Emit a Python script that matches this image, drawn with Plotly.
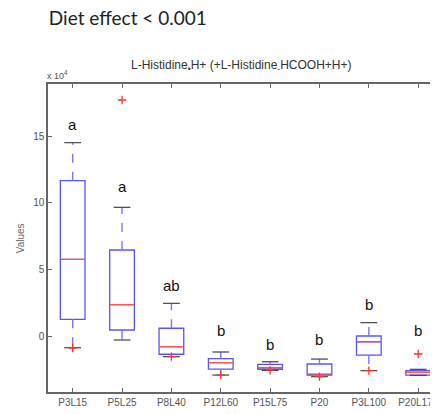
import plotly.graph_objects as go

# Box-plot statistics (units of 1e4)
groups = ['P3L15', 'P5L25', 'P8L40', 'P12L60', 'P15L75', 'P20', 'P3L100', 'P20L170']
upper_whisker = [14.5, 9.65, 2.45, -1.2, -1.93, -1.73, 1.0, -2.5]
q3 = [11.65, 6.45, 0.58, -1.7, -2.13, -2.1, 0.0, -2.6]
median = [5.75, 2.35, -0.8, -2.0, -2.38, -2.93, -0.43, -2.73]
q1 = [1.25, 0.45, -1.37, -2.48, -2.5, -2.93, -1.43, -2.93]
lower_whisker = [-0.88, -0.3, -1.55, -2.93, -2.58, -3.05, -2.6, -2.95]

# outliers (group index, value)
outlier_group = [1, 2, 3, 4, 5, 6, 7, 8]
outlier_value = [-0.9, 17.7, -1.55, -2.93, -2.58, -3.05, -2.6, -1.35]

# significance letters
letters = ['a', 'a', 'ab', 'b', 'b', 'b', 'b', 'b']
letter_y = [15.9, 11.2, 3.8, 0.4, -0.6, -0.25, 2.4, 0.4]

pos = list(range(1, len(groups) + 1))
box_w = 0.5
cap_w = 0.17

fig = go.Figure()

# dashed whiskers
for i, p in enumerate(pos):
    fig.add_trace(go.Scatter(
        x=[p, p, None, p, p],
        y=[q3[i], upper_whisker[i], None, q1[i], lower_whisker[i]],
        mode='lines', line=dict(color='#7777ff', width=1.4, dash='dash'),
        hoverinfo='skip', showlegend=False))
    # caps
    fig.add_trace(go.Scatter(
        x=[p - cap_w, p + cap_w, None, p - cap_w, p + cap_w],
        y=[upper_whisker[i], upper_whisker[i], None, lower_whisker[i], lower_whisker[i]],
        mode='lines', line=dict(color='#444444', width=1.2),
        hoverinfo='skip', showlegend=False))

# boxes
fig.add_trace(go.Box(
    x=pos, q1=q1, median=median, q3=q3,
    lowerfence=q1, upperfence=q3,
    width=box_w, whiskerwidth=0,
    line=dict(color='#5555ff', width=1.3),
    fillcolor='rgba(255,255,255,0)',
    boxpoints=False, showlegend=False, hoverinfo='skip'))

# red medians
for i, p in enumerate(pos):
    fig.add_trace(go.Scatter(
        x=[p - box_w / 2, p + box_w / 2], y=[median[i], median[i]],
        mode='lines', line=dict(color='#ff5555', width=1.3),
        hoverinfo='skip', showlegend=False))

# outliers
fig.add_trace(go.Scatter(
    x=outlier_group, y=outlier_value, mode='markers',
    marker=dict(symbol='cross-thin-open', size=6, color='#ff3333',
                line=dict(color='#ff3333', width=1.3)),
    hoverinfo='skip', showlegend=False))

# letters
for i, p in enumerate(pos):
    fig.add_annotation(x=p, y=letter_y[i], text=letters[i], showarrow=False,
                       font=dict(family='Liberation Sans', size=15, color='#111111'))

fig.add_annotation(xref='paper', yref='paper', x=-0.008, y=1.03, yanchor='middle',
                   xanchor='left', text='x 10<sup>4</sup>', showarrow=False,
                   font=dict(family='Liberation Sans', size=9, color='#555555'))
fig.add_annotation(xref='paper', yref='paper', x=0.5, y=1.058, yanchor='middle',
                   xanchor='center',
                   text='L-Histidine<sub>•</sub>H+ (+L-Histidine<sub>-</sub>HCOOH+H+)',
                   showarrow=False,
                   font=dict(family='Liberation Sans', size=12, color='#333333'))
fig.add_annotation(xref='paper', yref='paper', x=-0.072, y=0.5, xanchor='center',
                   text='Values', textangle=-90, showarrow=False,
                   font=dict(family='Liberation Sans', size=10, color='#666666'))

# page body keeps an 8px margin, so the figure is sized to the visible area
fig.update_layout(
    width=430, height=406,
    margin=dict(l=40, r=0, t=76, b=22),
    paper_bgcolor='white', plot_bgcolor='white',
    title=dict(text='Diet effect < 0.001', x=0.095, xanchor='left', y=0.99,
               yanchor='top',
               font=dict(family='Lato', size=19, color='#222222')),
    xaxis=dict(range=[0.5, 8.3], tickmode='array', tickvals=pos, ticktext=groups,
               showline=True, mirror='ticks', linecolor='#666666', linewidth=1.5,
               ticks='inside', ticklen=4, tickcolor='#666666', showgrid=False,
               zeroline=False, ticklabeloverflow='allow',
               tickfont=dict(family='Liberation Sans', size=10, color='#555555')),
    yaxis=dict(range=[-4.2, 18.9], tickvals=[0, 5, 10, 15],
               showline=True, linecolor='#666666', linewidth=1.5,
               ticks='inside', ticklen=4, tickcolor='#666666', showgrid=False,
               zeroline=False,
               tickfont=dict(family='Liberation Sans', size=10, color='#555555')),
)

fig.write_html("out.html")
